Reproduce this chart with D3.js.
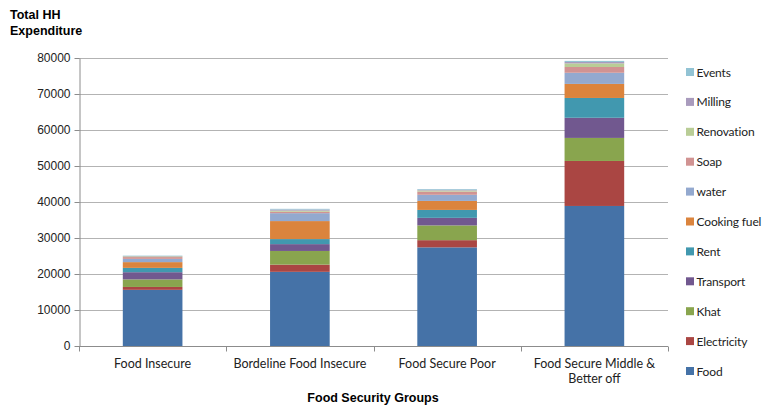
<!DOCTYPE html>
<html>
<head>
<meta charset="utf-8">
<script src="https://cdn.jsdelivr.net/npm/d3@7"></script>
<style>
  body { margin: 0; background: #fff; }
  text { font-family: "Liberation Sans", Arial, sans-serif; }
  .soft { font-family: Lato, "Open Sans", sans-serif; }
</style>
</head>
<body>
<div id="canvas"></div>
<script>
"use strict"

/* Data */
let groups = ["Food Insecure", "Bordeline Food Insecure", "Food Secure Poor", "Food Secure Middle & Better off"];
let items = ["Food", "Electricity", "Khat", "Transport", "Rent", "Cooking fuel", "water", "Soap", "Renovation", "Milling", "Events"];

let food        = [15600, 20600, 27400, 38900];
let electricity = [800, 2000, 2000, 12500];
let khat        = [2100, 3800, 4100, 6400];
let transport   = [2000, 1900, 2100, 5600];
let rent        = [1200, 1400, 2200, 5500];
let cookingFuel = [1600, 5000, 2500, 3900];
let water       = [900, 2200, 1700, 3100];
let soap        = [500, 400, 900, 1600];
let renovation  = [200, 300, 300, 1000];
let milling     = [100, 300, 200, 400];
let events      = [100, 200, 200, 300];

let yTicks = [0, 10000, 20000, 30000, 40000, 50000, 60000, 70000, 80000];
let colors = ["#4572A7", "#AA4643", "#89A54E", "#71588F", "#4198AF", "#DB843D",
              "#93A9CF", "#D19392", "#B9CD96", "#A99BBD", "#92C3D4"];

let seriesValues = [food, electricity, khat, transport, rent, cookingFuel,
                    water, soap, renovation, milling, events];

/* Drawing configuration */
let svgWidth = 765;
let svgHeight = 406;
let plotLeft = 79;
let plotRight = 668;
let plotTop = 58;
let plotBottom = 346;

let svg = d3.select("#canvas")
    .append("svg")
    .attr("width", svgWidth)
    .attr("height", svgHeight);

/* Build table for stacking */
let table = groups.map((g, i) => {
    let row = { group: g };
    items.forEach((k, j) => { row[k] = seriesValues[j][i]; });
    return row;
});
let stacked = d3.stack().keys(items)(table);

let xScale = d3.scaleBand()
    .domain(groups)
    .range([plotLeft, plotRight])
    .paddingInner(0.595)
    .paddingOuter(0.2975);

let yScale = d3.scaleLinear()
    .domain([0, 80000])
    .range([plotBottom, plotTop]);

let colorScale = d3.scaleOrdinal()
    .domain(items)
    .range(colors);

/* Gridlines */
svg.append("g")
    .selectAll("line")
    .data(yTicks.slice(1))
    .join("line")
    .attr("x1", plotLeft)
    .attr("x2", plotRight)
    .attr("y1", d => yScale(d) + 0.5)
    .attr("y2", d => yScale(d) + 0.5)
    .attr("stroke", "#b3b3b3")
    .attr("stroke-width", 1);

/* Bars */
svg.append("g")
    .selectAll("g")
    .data(stacked)
    .join("g")
    .attr("fill", d => colorScale(d.key))
    .selectAll("rect")
    .data(d => d)
    .join("rect")
    .attr("x", d => xScale(d.data.group))
    .attr("y", d => yScale(d[1]))
    .attr("width", xScale.bandwidth())
    .attr("height", d => yScale(d[0]) - yScale(d[1]));

/* Y axis */
let yAxis = svg.append("g")
    .attr("transform", "translate(" + (plotLeft + 0.5) + ",0)")
    .call(d3.axisLeft(yScale).tickValues(yTicks).tickSize(5).tickSizeOuter(0).tickFormat(d3.format("d")));
yAxis.select(".domain").attr("stroke", "#8c8c8c");
yAxis.selectAll(".tick line").attr("stroke", "#8c8c8c");
yAxis.selectAll(".tick text")
    .attr("font-size", 12)
    .attr("fill", "#222")
    .attr("x", -9)
    .style("font-family", "Liberation Sans, Arial, sans-serif");

/* X axis */
let xAxisG = svg.append("g")
    .attr("transform", "translate(0," + (plotBottom + 0.5) + ")");
xAxisG.append("line")
    .attr("x1", plotLeft)
    .attr("x2", plotRight)
    .attr("stroke", "#8c8c8c");
xAxisG.selectAll("line.tick")
    .data(d3.range(groups.length + 1))
    .join("line")
    .attr("class", "tick")
    .attr("x1", i => Math.round(plotLeft + i * (plotRight - plotLeft) / groups.length) + 0.5)
    .attr("x2", i => Math.round(plotLeft + i * (plotRight - plotLeft) / groups.length) + 0.5)
    .attr("y1", 0)
    .attr("y2", 5)
    .attr("stroke", "#8c8c8c");

/* Category labels, wrapped like the original */
let catLines = {
    "Food Insecure": ["Food Insecure"],
    "Bordeline Food Insecure": ["Bordeline Food Insecure"],
    "Food Secure Poor": ["Food Secure Poor"],
    "Food Secure Middle & Better off": ["Food Secure Middle &", "Better off"]
};
groups.forEach(g => {
    let t = svg.append("text")
        .attr("class", "soft")
        .attr("x", xScale(g) + xScale.bandwidth() / 2)
        .attr("y", 368)
        .attr("text-anchor", "middle")
        .attr("font-size", 12.5)
        .attr("fill", "#222");
    catLines[g].forEach((ln, i) => {
        t.append("tspan")
            .attr("x", xScale(g) + xScale.bandwidth() / 2)
            .attr("dy", i === 0 ? 0 : 15)
            .text(ln);
    });
});

/* Axis titles */
svg.append("text")
    .attr("x", 10)
    .attr("y", 19)
    .attr("font-size", 12.5)
    .attr("font-weight", "bold")
    .text("Total HH");
svg.append("text")
    .attr("x", 10)
    .attr("y", 35)
    .attr("font-size", 12.5)
    .attr("font-weight", "bold")
    .text("Expenditure");

svg.append("text")
    .attr("x", 373)
    .attr("y", 402)
    .attr("text-anchor", "middle")
    .attr("font-size", 12.5)
    .attr("font-weight", "bold")
    .text("Food Security Groups");

/* Legend (reverse order, top = Events) */
let legendItems = items.slice().reverse();
let legend = svg.append("g")
    .attr("transform", "translate(686,72)");
legend.selectAll("rect")
    .data(legendItems)
    .join("rect")
    .attr("x", 0)
    .attr("y", (d, i) => i * 29.9 - 4)
    .attr("width", 8)
    .attr("height", 8)
    .attr("fill", d => colorScale(d));
legend.selectAll("text.label")
    .data(legendItems)
    .join("text")
    .attr("class", "label soft")
    .attr("x", 10.5)
    .attr("y", (d, i) => i * 29.9 + 4.5)
    .attr("font-size", 12)
    .attr("letter-spacing", -0.15)
    .attr("fill", "#222")
    .text(d => d);
</script>
</body>
</html>
